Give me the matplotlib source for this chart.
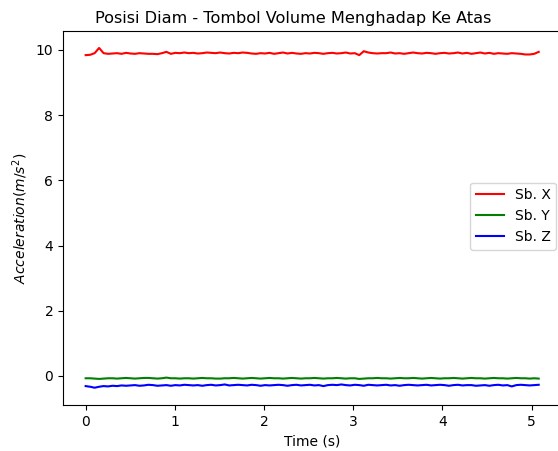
import numpy as np
import matplotlib
matplotlib.use("Agg")
import matplotlib.pyplot as plt

title = "Posisi Diam - Tombol Volume Menghadap Ke Atas"
series_names = ["Sb. X", "Sb. Y", "Sb. Z"]
series_colors = ["red", "green", "blue"]

sb_x = [9.84, 9.85, 9.90, 10.06, 9.90, 9.88, 9.89, 9.90, 9.88, 9.91,
        9.89, 9.88, 9.90, 9.89, 9.88, 9.88, 9.87, 9.90, 9.94, 9.88,
        9.91, 9.90, 9.92, 9.90, 9.91, 9.89, 9.90, 9.92, 9.91, 9.90,
        9.92, 9.90, 9.89, 9.91, 9.90, 9.92, 9.91, 9.89, 9.88, 9.90,
        9.89, 9.91, 9.88, 9.90, 9.92, 9.89, 9.91, 9.89, 9.88, 9.90,
        9.89, 9.91, 9.90, 9.88, 9.90, 9.91, 9.89, 9.90, 9.92, 9.89,
        9.90, 9.84, 9.96, 9.92, 9.90, 9.89, 9.90, 9.90, 9.92, 9.89,
        9.90, 9.88, 9.90, 9.92, 9.90, 9.89, 9.91, 9.90, 9.88, 9.90,
        9.91, 9.89, 9.90, 9.92, 9.89, 9.91, 9.88, 9.90, 9.92, 9.89,
        9.91, 9.88, 9.90, 9.89, 9.88, 9.90, 9.89, 9.88, 9.86, 9.86,
        9.88, 9.94]

sb_y = [-0.07, -0.07, -0.08, -0.09, -0.08, -0.07, -0.07, -0.08, -0.07, -0.06,
        -0.07, -0.08, -0.07, -0.06, -0.06, -0.07, -0.08, -0.07, -0.05, -0.07,
        -0.07, -0.08, -0.07, -0.07, -0.08, -0.07, -0.06, -0.07, -0.07, -0.08,
        -0.08, -0.07, -0.07, -0.06, -0.07, -0.08, -0.07, -0.06, -0.07, -0.08,
        -0.07, -0.06, -0.07, -0.07, -0.08, -0.07, -0.06, -0.07, -0.08, -0.07,
        -0.07, -0.06, -0.07, -0.08, -0.07, -0.07, -0.06, -0.07, -0.08, -0.07,
        -0.07, -0.09, -0.08, -0.07, -0.07, -0.06, -0.07, -0.07, -0.08, -0.07,
        -0.06, -0.07, -0.07, -0.06, -0.07, -0.08, -0.07, -0.06, -0.07, -0.08,
        -0.07, -0.07, -0.06, -0.07, -0.08, -0.07, -0.06, -0.07, -0.07, -0.08,
        -0.07, -0.06, -0.07, -0.07, -0.08, -0.07, -0.06, -0.07, -0.07, -0.08,
        -0.07, -0.08]

sb_z = [-0.31, -0.33, -0.36, -0.33, -0.31, -0.32, -0.30, -0.31, -0.29, -0.30,
        -0.29, -0.28, -0.30, -0.29, -0.27, -0.28, -0.30, -0.29, -0.28, -0.30,
        -0.28, -0.29, -0.27, -0.28, -0.29, -0.28, -0.30, -0.28, -0.27, -0.29,
        -0.28, -0.26, -0.29, -0.28, -0.27, -0.28, -0.29, -0.27, -0.28, -0.30,
        -0.28, -0.29, -0.28, -0.27, -0.28, -0.30, -0.28, -0.27, -0.29, -0.28,
        -0.27, -0.29, -0.28, -0.31, -0.28, -0.27, -0.28, -0.26, -0.28, -0.29,
        -0.27, -0.28, -0.30, -0.27, -0.28, -0.29, -0.28, -0.27, -0.29, -0.28,
        -0.30, -0.28, -0.27, -0.28, -0.29, -0.28, -0.27, -0.29, -0.28, -0.27,
        -0.28, -0.30, -0.28, -0.27, -0.29, -0.28, -0.28, -0.30, -0.29, -0.28,
        -0.30, -0.28, -0.27, -0.29, -0.28, -0.32, -0.28, -0.27, -0.28, -0.29,
        -0.28, -0.27]

t_end = 5.08
time = np.linspace(0, t_end, len(sb_x))

fig = plt.figure(figsize=(5.58, 4.51), dpi=100)
ax = fig.add_axes([63 / 558, 46 / 451, 498 / 558, 374 / 451])

for vals, name, col in zip([sb_x, sb_y, sb_z], series_names, series_colors):
    ax.plot(time, vals, color=col, label=name, linewidth=1.5)

ax.set_xlim(-0.254, 5.33)
ax.set_ylim(-0.89, 10.58)
ax.set_xticks([0, 1, 2, 3, 4, 5])
ax.set_yticks([0, 2, 4, 6, 8, 10])
ax.set_title(title, fontsize=11.6, x=(293 - 63) / 498)
ax.set_xlabel("Time (s)")
ax.set_ylabel(r"$Acceleration (m/s^2)$")
ax.legend(loc="center right", bbox_to_anchor=(1.004, 0.505))

fig.savefig("out.png", dpi=100)
